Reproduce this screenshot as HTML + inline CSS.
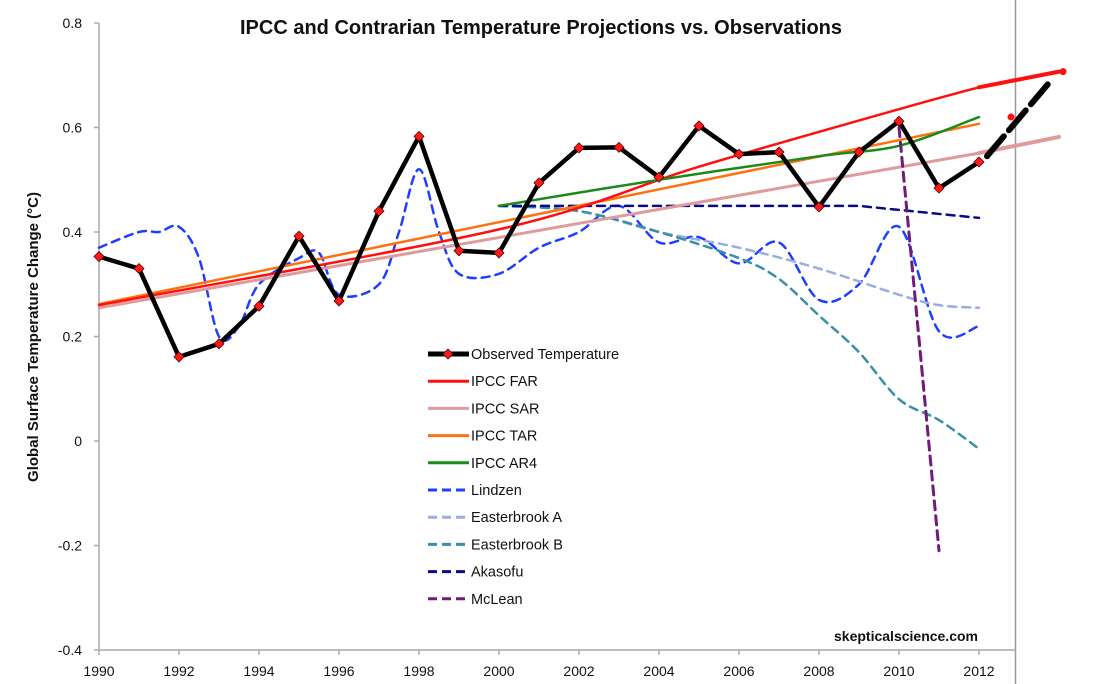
<!DOCTYPE html>
<html><head><meta charset="utf-8"><style>
html,body{margin:0;padding:0;background:#fff;}
svg{display:block;font-family:"Liberation Sans",sans-serif;}
</style></head><body>
<svg id="chart" width="1101" height="684" viewBox="0 0 1101 684" xmlns="http://www.w3.org/2000/svg">
<text x="541" y="34" text-anchor="middle" font-size="20" font-weight="bold" fill="#111">IPCC and Contrarian Temperature Projections vs. Observations</text>
<text transform="translate(38,337) rotate(-90)" text-anchor="middle" font-size="15" font-weight="bold" fill="#111">Global Surface Temperature Change (°C)</text>
<line x1="1015.5" y1="0" x2="1015.5" y2="684" stroke="#999" stroke-width="1.5"/>
<g id="axes"></g>
<g id="series"></g>
<g id="legend"></g>
<text x="978" y="641" text-anchor="end" font-size="14" font-weight="bold" fill="#111">skepticalscience.com</text>
</svg>
<script>
const years = [1990,1991,1992,1993,1994,1995,1996,1997,1998,1999,2000,2001,2002,2003,2004,2005,2006,2007,2008,2009,2010,2011,2012];
const observed = [0.353,0.330,0.161,0.186,0.258,0.392,0.268,0.440,0.583,0.364,0.360,0.494,0.561,0.562,0.505,0.603,0.549,0.553,0.448,0.553,0.612,0.484,0.534];
const farYears = [1990,2000,2005,2010,2012];
const farVals = [0.26,0.405,0.525,0.635,0.677];
const sarYears = [1990,2012];
const sarVals = [0.255,0.551];
const tarYears = [1990,2012];
const tarVals = [0.262,0.607];
const ar4Years = [2000,2004,2008,2010,2012];
const ar4Vals = [0.45,0.50,0.545,0.565,0.62];
const lindzenYears = [1990,1991,1991.5,1992,1992.5,1993,1993.5,1994,1995,1995.5,1996,1997,1997.5,1998,1998.5,1999,2000,2001,2002,2003,2004,2005,2006,2007,2008,2009,2010,2011,2012];
const lindzenVals = [0.37,0.40,0.40,0.41,0.35,0.20,0.22,0.30,0.35,0.36,0.28,0.30,0.40,0.52,0.40,0.32,0.32,0.37,0.40,0.45,0.38,0.39,0.34,0.38,0.27,0.30,0.41,0.21,0.22];
const eaYears = [2000,2002,2004,2006,2008,2010,2011,2012];
const eaVals = [0.45,0.44,0.40,0.37,0.33,0.28,0.26,0.255];
const ebYears = [2000,2002,2004,2006,2007,2008,2009,2010,2011,2012];
const ebVals = [0.45,0.44,0.40,0.35,0.31,0.24,0.17,0.08,0.04,-0.015];
const akYears = [2000,2009,2012];
const akVals = [0.45,0.45,0.427];
const mcYears = [2010,2011];
const mcVals = [0.60,-0.21];
const extFarYears = [2012,2014];
const extFarVals = [0.677,0.707];
const extObsYears = [2012.2,2013.8];
const extObsVals = [0.545,0.69];
const extSarYears = [2012,2014];
const extSarVals = [0.551,0.582];
const xTicks = [1990,1992,1994,1996,1998,2000,2002,2004,2006,2008,2010,2012];
const yTicks = [-0.4,-0.2,0,0.2,0.4,0.6,0.8];
const yTickLabels = ["-0.4","-0.2","0","0.2","0.4","0.6","0.8"];

const NS="http://www.w3.org/2000/svg";
function X(yr){return 99+(yr-1990)*40;}
function Y(v){return 441-v*522.5;}
function mk(tag,attrs,parent){const e=document.createElementNS(NS,tag);for(const k in attrs)e.setAttribute(k,attrs[k]);parent.appendChild(e);return e;}
const axes=document.getElementById('axes'),ser=document.getElementById('series'),leg=document.getElementById('legend');

let a=mk('line',{x1:99,y1:Y(0.8),x2:99,y2:Y(-0.4),stroke:'#aaa','stroke-width':1.5},axes);


a=mk('line',{x1:99,y1:Y(-0.4),x2:1015,y2:Y(-0.4),stroke:'#aaa','stroke-width':1.5},axes);


yTicks.forEach((v,i)=>{
  mk('line',{x1:94,y1:Y(v),x2:99,y2:Y(v),stroke:'#aaa','stroke-width':1.5},axes);
  const t=mk('text',{x:82,y:Y(v)+5,'text-anchor':'end','font-size':14,fill:'#111'},axes);
  t.textContent=yTickLabels[i];
  
  
});
xTicks.forEach(yr=>{
  mk('line',{x1:X(yr),y1:Y(-0.4),x2:X(yr),y2:Y(-0.4)+5,stroke:'#aaa','stroke-width':1.5},axes);
  const t=mk('text',{x:X(yr),y:676,'text-anchor':'middle','font-size':14,fill:'#111'},axes);
  t.textContent=yr;
  
  
});

function pathD(xs,vs,smooth){
  const P=xs.map((x,i)=>[X(x),Y(vs[i])]);
  if(!smooth||P.length<3)return P.map((p,i)=>(i?'L':'M')+p[0].toFixed(1)+','+p[1].toFixed(1)).join(' ');
  let d='M'+P[0][0].toFixed(1)+','+P[0][1].toFixed(1);
  for(let i=0;i<P.length-1;i++){
    const p0=P[i-1]||P[i],p1=P[i],p2=P[i+1],p3=P[i+2]||P[i+1];
    const c1=[p1[0]+(p2[0]-p0[0])/6,p1[1]+(p2[1]-p0[1])/6];
    const c2=[p2[0]-(p3[0]-p1[0])/6,p2[1]-(p3[1]-p1[1])/6];
    d+=` C${c1[0].toFixed(1)},${c1[1].toFixed(1)} ${c2[0].toFixed(1)},${c2[1].toFixed(1)} ${p2[0].toFixed(1)},${p2[1].toFixed(1)}`;
  }
  return d;
}
function line(xs,vs,color,w,dash,name,smooth){
  const p=mk('path',{d:pathD(xs,vs,smooth),fill:'none',stroke:color,'stroke-width':w,'stroke-linejoin':'round','stroke-linecap':'round'},ser);
  if(dash)p.setAttribute('stroke-dasharray',dash);
  
  
  return p;
}
line(lindzenYears,lindzenVals,'#1f3fff',2.5,'8,6','lindzen-line',true);
line(eaYears,eaVals,'#9aaedd',2.5,'8,6','easterbrook-a-line',true);
line(ebYears,ebVals,'#3a8fa8',2.5,'8,6','easterbrook-b-line',true);
line(akYears,akVals,'#0a0a8a',2.5,'8,6','akasofu-line',false);
line(sarYears,sarVals,'#e09a9a',3,null,'ipcc-sar-line',false);
line(extSarYears,extSarVals,'#e09a9a',4,null,'ipcc-sar-extension',false);
line(tarYears,tarVals,'#ff7010',2.5,null,'ipcc-tar-line',false);
line(farYears,farVals,'#ff1010',2.5,null,'ipcc-far-line',true);
line(extFarYears,extFarVals,'#ff1010',4,null,'ipcc-far-extension',false);
line(ar4Years,ar4Vals,'#1a8a1a',2.5,null,'ipcc-ar4-line',true);
line(years,observed,'#000',4.5,null,'observed-line',false);
line(extObsYears,extObsVals,'#000',6,'26,8','observed-extension',false);
line(mcYears,mcVals,'#701a7a',3,'9,6','mclean-line',false);
years.forEach((yr,i)=>{
  const cx=X(yr),cy=Y(observed[i]);
  const m=mk('path',{d:`M${cx},${cy-5} L${cx+5},${cy} L${cx},${cy+5} L${cx-5},${cy} Z`,fill:'#ff1a1a',stroke:'#500','stroke-width':0.8},ser);
  
  
});
[[2014.1,0.707],[2012.8,0.62]].forEach(p=>{
  const c=mk('circle',{cx:X(p[0]),cy:Y(p[1]),r:3.5,fill:'#ff1010'},ser);
  
  
});

const legNames=['Observed Temperature','IPCC FAR','IPCC SAR','IPCC TAR','IPCC AR4','Lindzen','Easterbrook A','Easterbrook B','Akasofu','McLean'];
const legColors=['#000','#ff1010','#e09a9a','#ff7010','#1a8a1a','#1f3fff','#9aaedd','#3a8fa8','#0a0a8a','#701a7a'];
const legDash=[null,null,null,null,null,'9,5','9,5','9,5','9,5','9,5'];
legNames.forEach((n,i)=>{
  const y=354+i*27.2;
  const g=mk('g',{},leg);
  
  
  const l=mk('line',{x1:428,y1:y,x2:469,y2:y,stroke:legColors[i],'stroke-width':i===0?5:3},g);
  if(legDash[i])l.setAttribute('stroke-dasharray',legDash[i]);
  if(i===0)mk('path',{d:`M448,${y-5} L453,${y} L448,${y+5} L443,${y} Z`,fill:'#ff1a1a',stroke:'#500','stroke-width':0.8},g);
  const t=mk('text',{x:471,y:y+5,'font-size':14.5,fill:'#111'},g);
  t.textContent=n;
});
</script>
</body></html>
